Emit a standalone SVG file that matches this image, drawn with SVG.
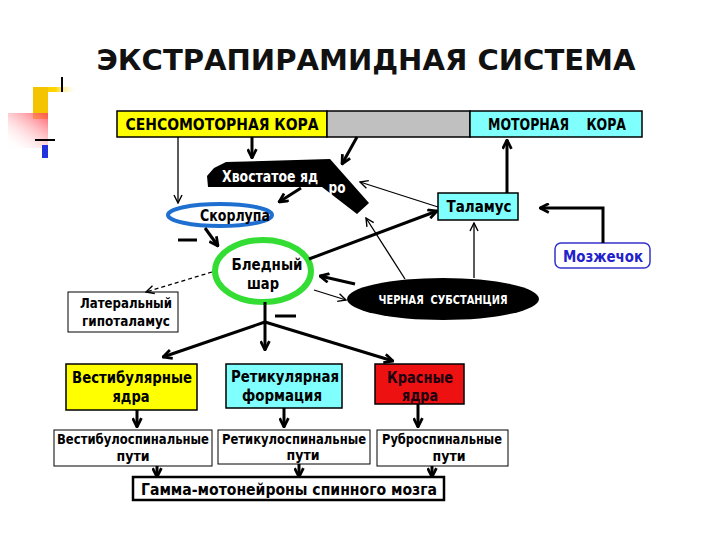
<svg xmlns="http://www.w3.org/2000/svg" width="720" height="540" viewBox="0 0 720 540">
<style>
.t{font-family:"Liberation Sans Narrow","DejaVu Sans Condensed","DejaVu Sans","Liberation Sans",sans-serif;font-weight:bold;text-anchor:middle}
.box{stroke:#000;stroke-width:1.5}
.thick{stroke:#000;stroke-width:3;fill:none}
.thin{stroke:#000;stroke-width:1.3;fill:none}
</style>
<defs>
<marker id="ah" viewBox="0 0 10 10" refX="9" refY="5" markerWidth="11" markerHeight="11" markerUnits="userSpaceOnUse" orient="auto">
<path d="M1,1 L9,5 L1,9" fill="none" stroke="#000" stroke-width="2.5"/>
</marker>
<marker id="at" viewBox="0 0 10 10" refX="9" refY="5" markerWidth="10" markerHeight="10" markerUnits="userSpaceOnUse" orient="auto">
<path d="M1,1 L9,5 L1,9" fill="none" stroke="#000" stroke-width="1.4"/>
</marker>
<linearGradient id="gy" x1="0" y1="0" x2="1" y2="0">
<stop offset="0" stop-color="#f5c400"/><stop offset="0.5" stop-color="#ffd700"/><stop offset="1" stop-color="#fff" stop-opacity="0"/>
</linearGradient>
<linearGradient id="gr" x1="1" y1="0" x2="0" y2="1">
<stop offset="0" stop-color="#ff3344"/><stop offset="1" stop-color="#fff" stop-opacity="0"/>
</linearGradient>
</defs>
<rect width="720" height="540" fill="#fff"/>
<g id="decor">
<rect x="33" y="87" width="45" height="32" fill="url(#gy)"/>
<rect x="33" y="87" width="15" height="32" fill="#f5c400"/>
<rect x="8" y="113" width="50" height="35" fill="url(#gr)"/>
<rect x="48" y="92" width="35" height="60" fill="#fff"/>
<line x1="62" y1="77" x2="62" y2="92" stroke="#000" stroke-width="2"/>
<line x1="35" y1="140" x2="55" y2="140" stroke="#000" stroke-width="2"/>
<rect x="42" y="145" width="6" height="13" fill="#2233dd"/>
</g>
<g id="title">
<text x="366" y="70" font-family="DejaVu Sans,Liberation Sans,sans-serif" font-weight="bold" font-size="28" text-anchor="middle" textLength="539" lengthAdjust="spacingAndGlyphs" fill="#111">ЭКСТРАПИРАМИДНАЯ  СИСТЕМА</text>
</g>
<g id="cortex">
<rect x="117" y="111" width="210" height="26" fill="#ffff00" class="box"/>
<rect x="327" y="111" width="143" height="26" fill="#c0c0c0" class="box"/>
<rect x="470" y="111" width="172" height="26" fill="#80ffff" class="box"/>
<text class="t" x="222" y="130" font-size="16" textLength="193" lengthAdjust="spacingAndGlyphs">СЕНСОМОТОРНАЯ КОРА</text>
<text class="t" x="557" y="130" font-size="16" textLength="138" lengthAdjust="spacingAndGlyphs" xml:space="preserve">МОТОРНАЯ    КОРА</text>
</g>
<g id="caudate">
<polygon points="207,176 214,168 226,162 330,159 369,203 357,214 322,187 208,187" fill="#000"/>
<text class="t" x="270" y="182" font-size="15" fill="#fff" textLength="96" lengthAdjust="spacingAndGlyphs">Хвостатое яд</text>
<text class="t" x="337" y="193" font-size="15" fill="#fff" textLength="17" lengthAdjust="spacingAndGlyphs">ро</text>
</g>
<g id="putamen">
<ellipse cx="220" cy="215" rx="52" ry="11" fill="#fff" stroke="#1e6fd0" stroke-width="4"/>
<text class="t" x="235" y="221" font-size="15" textLength="70" lengthAdjust="spacingAndGlyphs">Скорлупа</text>
</g>
<g id="pallidus">
<ellipse cx="263" cy="271" rx="48" ry="31" fill="#fff" stroke="#33dd33" stroke-width="6"/>
<text class="t" x="267" y="270" font-size="16" textLength="71" lengthAdjust="spacingAndGlyphs">Бледный</text>
<text class="t" x="263" y="289" font-size="16" textLength="32" lengthAdjust="spacingAndGlyphs">шар</text>
</g>
<g id="thalamus">
<rect x="438" y="193" width="80" height="27" fill="#80ffff" class="box"/>
<text class="t" x="479" y="212" font-size="16" textLength="65" lengthAdjust="spacingAndGlyphs">Таламус</text>
</g>
<g id="cerebellum">
<rect x="555" y="243" width="95" height="25" rx="6" fill="#fff" stroke="#3333cc" stroke-width="1.5"/>
<text class="t" x="603" y="262" font-size="16" fill="#2222cc" textLength="80" lengthAdjust="spacingAndGlyphs">Мозжечок</text>
</g>
<g id="nigra">
<ellipse cx="443" cy="299" rx="96" ry="21" fill="#000"/>
<text class="t" x="443" y="304" font-size="13" fill="#fff" textLength="129" lengthAdjust="spacingAndGlyphs" xml:space="preserve">ЧЕРНАЯ  СУБСТАНЦИЯ</text>
</g>
<g id="hypothalamus">
<rect x="68" y="292" width="110" height="40" fill="#fff" stroke="#000" stroke-width="1"/>
<text class="t" x="126" y="308" font-size="14" textLength="92" lengthAdjust="spacingAndGlyphs">Латеральный</text>
<text class="t" x="126" y="326" font-size="14" textLength="88" lengthAdjust="spacingAndGlyphs">гипоталамус</text>
</g>
<g id="vestibular">
<rect x="66" y="364" width="131" height="46" fill="#ffff00" class="box"/>
<text class="t" x="132" y="383" font-size="16" textLength="120" lengthAdjust="spacingAndGlyphs">Вестибулярные</text>
<text class="t" x="131" y="402" font-size="16" textLength="37" lengthAdjust="spacingAndGlyphs">ядра</text>
</g>
<g id="reticular">
<rect x="226" y="364" width="116" height="44" fill="#80ffff" class="box"/>
<text class="t" x="285" y="382" font-size="16" textLength="108" lengthAdjust="spacingAndGlyphs">Ретикулярная</text>
<text class="t" x="282" y="401" font-size="16" textLength="80" lengthAdjust="spacingAndGlyphs">формация</text>
</g>
<g id="red">
<rect x="375" y="364" width="89" height="40" fill="#ee1111" class="box"/>
<text class="t" x="420" y="383" font-size="15" fill="#1a0010" textLength="66" lengthAdjust="spacingAndGlyphs">Красные</text>
<text class="t" x="420" y="401" font-size="15" fill="#1a0010" textLength="36" lengthAdjust="spacingAndGlyphs">ядра</text>
</g>
<g id="vestspinal">
<rect x="54" y="430" width="158" height="36" fill="#fff" stroke="#000" stroke-width="1"/>
<text class="t" x="133" y="444" font-size="14" textLength="152" lengthAdjust="spacingAndGlyphs">Вестибулоспинальные</text>
<text class="t" x="133" y="461" font-size="14" textLength="33" lengthAdjust="spacingAndGlyphs">пути</text>
</g>
<g id="retspinal">
<rect x="218" y="430" width="152" height="34" fill="#fff" stroke="#000" stroke-width="1"/>
<text class="t" x="294" y="444" font-size="14" textLength="144" lengthAdjust="spacingAndGlyphs">Ретикулоспинальные</text>
<text class="t" x="303" y="460" font-size="14" textLength="33" lengthAdjust="spacingAndGlyphs">пути</text>
</g>
<g id="rubspinal">
<rect x="377" y="430" width="131" height="36" fill="#fff" stroke="#000" stroke-width="1"/>
<text class="t" x="442" y="444" font-size="14" textLength="120" lengthAdjust="spacingAndGlyphs">Руброспинальные</text>
<text class="t" x="449" y="461" font-size="14" textLength="33" lengthAdjust="spacingAndGlyphs">пути</text>
</g>
<g id="gamma">
<rect x="133" y="477" width="311" height="23" fill="#fff" stroke="#000" stroke-width="2.5"/>
<text class="t" x="289" y="495" font-size="16" textLength="296" lengthAdjust="spacingAndGlyphs">Гамма-мотонейроны спинного мозга</text>
</g>
<g id="connectors">
<line class="thin" x1="178" y1="137" x2="178" y2="203" marker-end="url(#at)"/>
<line class="thick" x1="252" y1="137" x2="252" y2="158" marker-end="url(#ah)"/>
<line class="thick" stroke-width="2.5" x1="357" y1="137" x2="342" y2="164" marker-end="url(#ah)"/>
<line class="thick" x1="507" y1="193" x2="507" y2="140" marker-end="url(#ah)"/>
<line class="thick" stroke-width="2.5" x1="301" y1="188" x2="279" y2="202" marker-end="url(#ah)"/>
<line class="thick" x1="205" y1="228" x2="218" y2="246" marker-end="url(#ah)"/>
<line class="thin" x1="438" y1="207" x2="360" y2="182" marker-end="url(#at)"/>
<line class="thick" x1="309" y1="259" x2="437" y2="211" marker-end="url(#ah)"/>
<line class="thin" x1="405" y1="279" x2="366" y2="218" marker-end="url(#at)"/>
<line class="thin" x1="474" y1="278" x2="474" y2="223" marker-end="url(#at)"/>
<polyline class="thick" stroke-width="2.5" points="603,243 603,208 540,208" marker-end="url(#ah)"/>
<line class="thick" x1="355" y1="284" x2="320" y2="276" marker-end="url(#ah)"/>
<line class="thin" stroke-width="1.8" x1="314" y1="290" x2="346" y2="300" marker-end="url(#at)"/>
<line class="thin" stroke-dasharray="4,3" x1="212" y1="272" x2="146" y2="292" marker-end="url(#at)"/>
<line class="thick" x1="265" y1="302" x2="265" y2="322"/>
<line class="thick" x1="265" y1="322" x2="265" y2="350" marker-end="url(#ah)"/>
<line class="thick" x1="265" y1="322" x2="163" y2="357" marker-end="url(#ah)"/>
<line class="thick" x1="265" y1="322" x2="393" y2="361" marker-end="url(#ah)"/>
<line class="thick" x1="178" y1="240" x2="197" y2="240"/>
<line class="thick" x1="275" y1="316" x2="296" y2="316"/>
<line class="thick" x1="137" y1="410" x2="137" y2="427" marker-end="url(#ah)"/>
<line class="thick" x1="284" y1="408" x2="284" y2="427" marker-end="url(#ah)"/>
<line class="thick" x1="418" y1="404" x2="418" y2="427" marker-end="url(#ah)"/>
<line class="thick" x1="157" y1="466" x2="157" y2="477" marker-end="url(#ah)"/>
<line class="thick" x1="299" y1="464" x2="299" y2="477" marker-end="url(#ah)"/>
<line class="thick" x1="432" y1="466" x2="432" y2="477" marker-end="url(#ah)"/>
</g>
</svg>
